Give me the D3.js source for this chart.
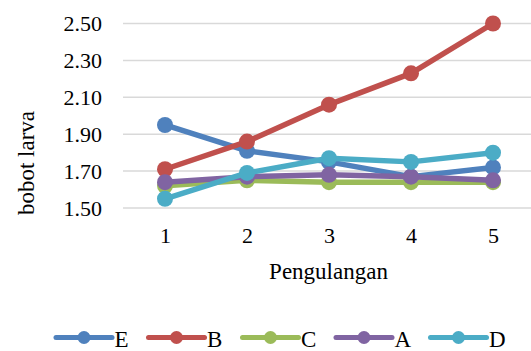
<!DOCTYPE html>
<html><head><meta charset="utf-8">
<script src="https://cdn.jsdelivr.net/npm/d3@7"></script>
<style>body{margin:0;background:#fff}svg{display:block}</style>
</head><body>
<script>
const categories = ["1","2","3","4","5"];
const seriesNames = ["E","B","C","A","D"];
const valuesE = [1.95,1.81,1.75,1.67,1.72];
const valuesB = [1.71,1.86,2.06,2.23,2.50];
const valuesC = [1.62,1.65,1.64,1.64,1.64];
const valuesA = [1.64,1.67,1.68,1.67,1.65];
const valuesD = [1.55,1.69,1.77,1.75,1.80];
const colors = ["#4F81BD","#C0504D","#9BBB59","#8064A2","#4BACC6"];
const yTicks = [1.50,1.70,1.90,2.10,2.30,2.50];

const series = [valuesE,valuesB,valuesC,valuesA,valuesD].map((v,i)=>({name:seriesNames[i],values:v,color:colors[i]}));

const W=531,H=351;
const FONT="Liberation Serif";
const svg=d3.select("body").append("svg").attr("width",W).attr("height",H);

const x=d3.scalePoint().domain(categories).range([165,493]);
const y=d3.scaleLinear().domain([1.5,2.5]).range([208,23.5]);

// gridlines
svg.append("g").selectAll("line").data(yTicks).join("line")
  .attr("x1",123).attr("x2",531).attr("y1",d=>y(d)).attr("y2",d=>y(d))
  .attr("stroke","#d9d9d9").attr("stroke-width",1.5);

// y axis labels
const yAxis=d3.axisLeft(y).tickValues(yTicks).tickFormat(d3.format(".2f")).tickSize(0).tickPadding(0);
const gy=svg.append("g").attr("transform","translate(102,0)").call(yAxis);
gy.select(".domain").remove();
gy.attr("font-family",FONT).attr("font-size",22);
gy.selectAll("text").attr("font-family",FONT).attr("font-size",22).attr("fill","#000").attr("dy","0.34em");

// x axis labels
const xAxis=d3.axisBottom(x).tickSize(0).tickPadding(0);
const gx=svg.append("g").attr("transform","translate(0,243)").call(xAxis);
gx.select(".domain").remove();
gx.attr("font-family",FONT).attr("font-size",22);
gx.selectAll("text").attr("font-family",FONT).attr("font-size",22).attr("fill","#000").attr("dy","0");

// axis titles
svg.append("text").attr("x",328.5).attr("y",279).attr("text-anchor","middle")
  .attr("font-family",FONT).attr("font-size",23).attr("fill","#000").text("Pengulangan");
svg.append("text").attr("transform","translate(34,163) rotate(-90)").attr("text-anchor","middle")
  .attr("font-family",FONT).attr("font-size",23).attr("fill","#000").text("bobot larva");

// lines
const line=d3.line().x((d,i)=>x(categories[i])).y(d=>y(d));
series.forEach(s=>{
  const g=svg.append("g");
  g.append("path").attr("d",line(s.values)).attr("fill","none").attr("stroke",s.color)
    .attr("stroke-width",5.5).attr("stroke-linejoin","round").attr("stroke-linecap","round");
  g.selectAll("circle").data(s.values).join("circle")
    .attr("cx",(d,i)=>x(categories[i])).attr("cy",d=>y(d)).attr("r",8).attr("fill",s.color);
});

// legend
const legX=[56,148.5,242.5,336,430.5];
const lg=svg.append("g");
series.forEach((s,i)=>{
  const g=lg.append("g").attr("transform",`translate(${legX[i]},337.5)`);
  g.append("line").attr("x1",0).attr("x2",56).attr("y1",0).attr("y2",0).attr("stroke",s.color)
    .attr("stroke-width",5).attr("stroke-linecap","round");
  g.append("circle").attr("cx",28).attr("cy",0).attr("r",6.5).attr("fill",s.color);
  g.append("text").attr("x",58.5).attr("y",9.5)
    .attr("font-family",FONT).attr("font-size",23).attr("fill","#000").text(s.name);
});
</script>
</body></html>
